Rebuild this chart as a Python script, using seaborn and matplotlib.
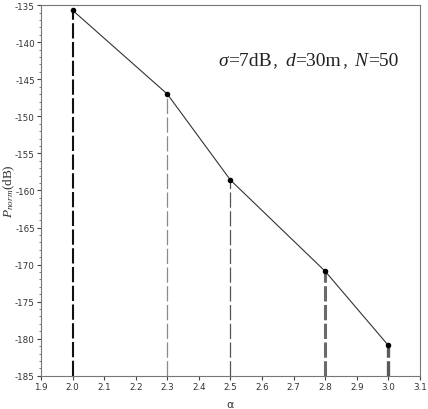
import numpy as np
import pandas as pd
import matplotlib
matplotlib.use("Agg")
import matplotlib.pyplot as plt
import seaborn as sns
from matplotlib.ticker import MultipleLocator

# values
alpha = [2.0, 2.3, 2.5, 2.8, 3.0]
p_norm = [-135.7, -147.0, -158.6, -170.9, -180.9]
drop_widths = [1.5, 0.9, 0.9, 2.2, 2.4]
drop_colors = ["#111111", "#8a8a8a", "#555555", "#6a6a6a", "#5a5a5a"]

# annotation pieces: (text, style)
note_parts = [("σ", "it"), ("=7dB", "rm"), ("，", "cjk"), ("d", "it"),
              ("=30m", "rm"), ("，", "cjk"), ("N", "it"), ("=50", "rm")]

df = pd.DataFrame({"alpha": alpha, "p_norm": p_norm})

sns.set_theme(style="white")
plt.rcParams["mathtext.fontset"] = "custom"
plt.rcParams["mathtext.rm"] = "Liberation Serif"
plt.rcParams["mathtext.it"] = "Liberation Serif:italic"
plt.rcParams["axes.unicode_minus"] = False
plt.rcParams["lines.scale_dashes"] = False

fig = plt.figure(figsize=(4.28, 4.10), dpi=100)
ax = fig.add_axes([0.096, 0.081, 0.885, 0.904])

y_min, y_max = -185, -135
for x, y, lw, c in zip(df["alpha"], df["p_norm"], drop_widths, drop_colors):
    ax.plot([x, x], [y_min, y], linestyle=(0, (11, 2.5)), color=c, linewidth=lw, zorder=1)

sns.lineplot(data=df, x="alpha", y="p_norm", ax=ax, color="#333333",
             linewidth=0.8, marker="o", markersize=4, markeredgewidth=0,
             markerfacecolor="black", zorder=3)

ax.set_xlim(1.9, 3.1)
ax.set_ylim(y_min, y_max)
ax.yaxis.set_major_locator(MultipleLocator(5))
ax.yaxis.set_minor_locator(MultipleLocator(1))
ax.set_xticks(np.arange(1.9, 3.15, 0.1))
ax.set_xticklabels([f"{v:.1f}" for v in np.arange(1.9, 3.15, 0.1)])

ax.tick_params(axis="both", which="major", direction="out", length=3,
               width=0.8, color="#444444", labelsize=6.3, labelcolor="#333333", pad=1.5)
ax.tick_params(axis="y", which="minor", direction="out", length=1.5,
               width=0.6, color="#666666", left=True)
ax.tick_params(left=True, bottom=True)

for s in ax.spines.values():
    s.set_color("#777777")
    s.set_linewidth(0.8)

ax.set_xlabel("α", fontsize=8, color="#333333", labelpad=6)
ax.set_ylabel(r"$P_{norm}$(dB)", fontsize=9.5, color="#333333", labelpad=0,
              family="Liberation Serif")
ax.yaxis.set_label_coords(-0.064, 0.5)

# annotation built piece by piece so the full-width commas render
fig.canvas.draw()
renderer = fig.canvas.get_renderer()
x0, y0 = 218, 410 - 62
for txt, style in note_parts:
    kw = dict(fontsize=14, color="#222222", va="center", ha="left")
    if style == "it":
        kw.update(family="Liberation Serif", style="italic")
    elif style == "rm":
        kw.update(family="Liberation Serif")
    else:
        kw.update(family="Noto Sans CJK SC", fontsize=10)
    t = fig.text(x0 / 428, y0 / 410, txt, **kw)
    bb = t.get_window_extent(renderer)
    x0 = bb.x1

fig.savefig("out.png", dpi=100)
